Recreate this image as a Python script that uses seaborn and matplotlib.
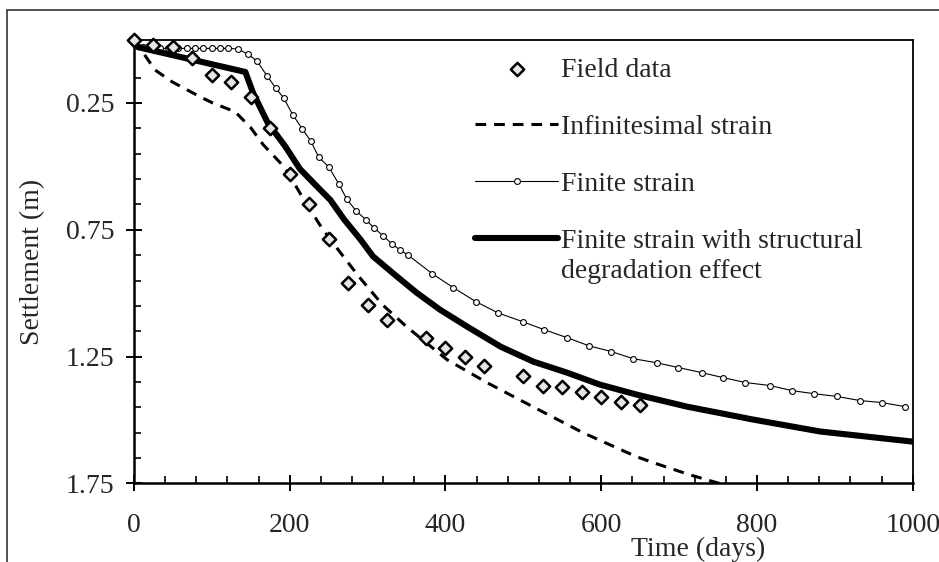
"""
Settlement versus time: field data compared with three consolidation models.
"""

import matplotlib
matplotlib.use('Agg')
import matplotlib.pyplot as plt
import seaborn as sns
from matplotlib.patches import Rectangle

# Field data (diamonds)
field_days = [0, 25, 50, 75, 100, 125, 150, 175, 200, 225, 250, 275, 300, 325,
              375, 400, 425, 450, 500, 525, 550, 575, 600, 625, 650]
field_settlement = [0.0, 0.02, 0.03, 0.074, 0.140, 0.167, 0.226, 0.348, 0.529,
                    0.647, 0.785, 0.961, 1.045, 1.104, 1.175, 1.215, 1.25, 1.285,
                    1.325, 1.364, 1.368, 1.388, 1.41, 1.43, 1.442]

# Infinitesimal strain (dashed)
inf_days = [0, 27, 49, 85, 101, 130, 150, 166, 194, 216, 241, 267, 290, 319,
            350, 402, 453, 512, 576, 645, 666, 713, 752]
inf_settlement = [0.0, 0.12, 0.167, 0.226, 0.25, 0.285, 0.348, 0.415, 0.506,
                  0.62, 0.742, 0.848, 0.939, 1.045, 1.132, 1.262, 1.352, 1.447,
                  1.549, 1.644, 1.667, 1.715, 1.75]

# Finite strain (thin line, small circles)
fs_days = [0, 11, 22, 33, 44, 57, 68, 78, 89, 100, 111, 121, 133, 146, 158,
           171, 182, 192, 204, 216, 227, 237, 250, 263, 273, 285, 298, 308,
           320, 331, 342, 352, 383, 410, 439, 467, 499, 527, 556, 584, 613,
           641, 671, 699, 729, 757, 785, 817, 845, 873, 903, 932, 960, 990]
fs_settlement = [0.0, 0.03, 0.035, 0.035, 0.035, 0.035, 0.035, 0.035, 0.035,
                 0.035, 0.035, 0.035, 0.037, 0.057, 0.085, 0.144, 0.191, 0.230,
                 0.297, 0.352, 0.400, 0.463, 0.502, 0.569, 0.628, 0.675, 0.711,
                 0.742, 0.774, 0.805, 0.83, 0.85, 0.923, 0.978, 1.033, 1.077,
                 1.112, 1.144, 1.175, 1.207, 1.230, 1.258, 1.274, 1.293, 1.313,
                 1.333, 1.352, 1.364, 1.384, 1.396, 1.407, 1.423, 1.431, 1.447]

# Finite strain with structural degradation effect (thick line)
deg_days = [0, 5, 143, 153, 172, 194, 213, 232, 252, 270, 290, 307, 338, 363,
            393, 428, 471, 513, 556, 598, 646, 710, 795, 881, 1000]
deg_settlement = [0.0, 0.03, 0.128, 0.211, 0.33, 0.42, 0.51, 0.57, 0.632, 0.71,
                  0.785, 0.855, 0.935, 0.998, 1.065, 1.132, 1.211, 1.270, 1.313,
                  1.360, 1.400, 1.447, 1.498, 1.545, 1.585]

x_ticks = [0, 200, 400, 600, 800, 1000]
y_ticks = [0.25, 0.75, 1.25, 1.75]
y_minor = [0.15, 0.35, 0.45, 0.55, 0.65, 0.85, 0.95, 1.05, 1.15,
           1.35, 1.45, 1.55, 1.65]
x_minor = [d for d in range(40, 1000, 40) if d % 200 != 0]

labels = ['Field data', 'Infinitesimal strain', 'Finite strain',
          'Finite strain with structural']
extra_line = 'degradation effect'

sns.set_theme(style='ticks')
plt.rcParams['font.family'] = ['Liberation Serif', 'DejaVu Serif']
plt.rcParams['axes.edgecolor'] = 'black'

fig = plt.figure(figsize=(9.39, 5.62), dpi=100)
ax = fig.add_axes([0.1427, 0.1397, 0.8293, 0.79])

# outer frame of the original figure (right and bottom edges cut off)
fig.patches.append(Rectangle((7 / 939, -0.2), 1.5, 1.2 - 10 / 562,
                             transform=fig.transFigure, fill=False,
                             edgecolor='#333333', linewidth=1.2))

sns.lineplot(x=inf_days, y=inf_settlement, ax=ax, color='black', lw=2.2,
             linestyle=(0, (3.5, 2.6)), label=labels[1], estimator=None,
             sort=False)
sns.lineplot(x=fs_days, y=fs_settlement, ax=ax, color='black', lw=0.8,
             marker='o', markersize=4.2, markerfacecolor='white',
             markeredgecolor='black', markeredgewidth=0.8, label=labels[2],
             estimator=None, sort=False)
sns.lineplot(x=deg_days, y=deg_settlement, ax=ax, color='black', lw=4.4,
             label=labels[3], estimator=None, sort=False)
sns.scatterplot(x=field_days, y=field_settlement, ax=ax, marker='D', s=46,
                color='#e4e4e4', edgecolor='black', linewidth=1.8,
                label=labels[0], zorder=5, clip_on=False)

ax.set_xlim(0, 1000)
ax.set_ylim(1.75, 0)
ax.set_xticks(x_ticks)
ax.set_xticks(x_minor, minor=True)
ax.set_yticks(y_ticks)
ax.set_yticklabels([f'{v:.2f}' for v in y_ticks])
ax.set_yticks(y_minor, minor=True)

ax.tick_params(which='major', direction='inout', length=12, width=1.4,
               labelsize=20, color='black')
ax.tick_params(axis='y', which='major', pad=8)
ax.tick_params(axis='x', which='major', pad=15)
ax.tick_params(which='minor', direction='in', length=5, width=1.2,
               color='black')
for side in ['left', 'bottom']:
    ax.spines[side].set_linewidth(1.8)
for side in ['top', 'right']:
    ax.spines[side].set_linewidth(1.3)

ax.set_ylabel('Settlement (m)', fontsize=20)
ax.yaxis.set_label_coords(-0.114, 0.5)
ax.set_xlabel('Time (days)', fontsize=20)
ax.xaxis.set_label_coords(0.724, -0.121)

handles, found = ax.get_legend_handles_labels()
order = [found.index(lb) for lb in labels]
leg = ax.legend([handles[i] for i in order], labels, loc='upper left',
                bbox_to_anchor=(0.438, 0.96), frameon=False, fontsize=20,
                borderpad=0, borderaxespad=0, handlelength=3.0,
                handletextpad=0.1, labelspacing=1.14, scatterpoints=1)

fig.canvas.draw()
bb = leg.get_texts()[-1].get_window_extent()
x0, y0 = fig.transFigure.inverted().transform((bb.x0, bb.y0 - 5))
fig.text(x0, y0, extra_line, fontsize=20, va='top', ha='left')

fig.savefig('out.png', dpi=100)
